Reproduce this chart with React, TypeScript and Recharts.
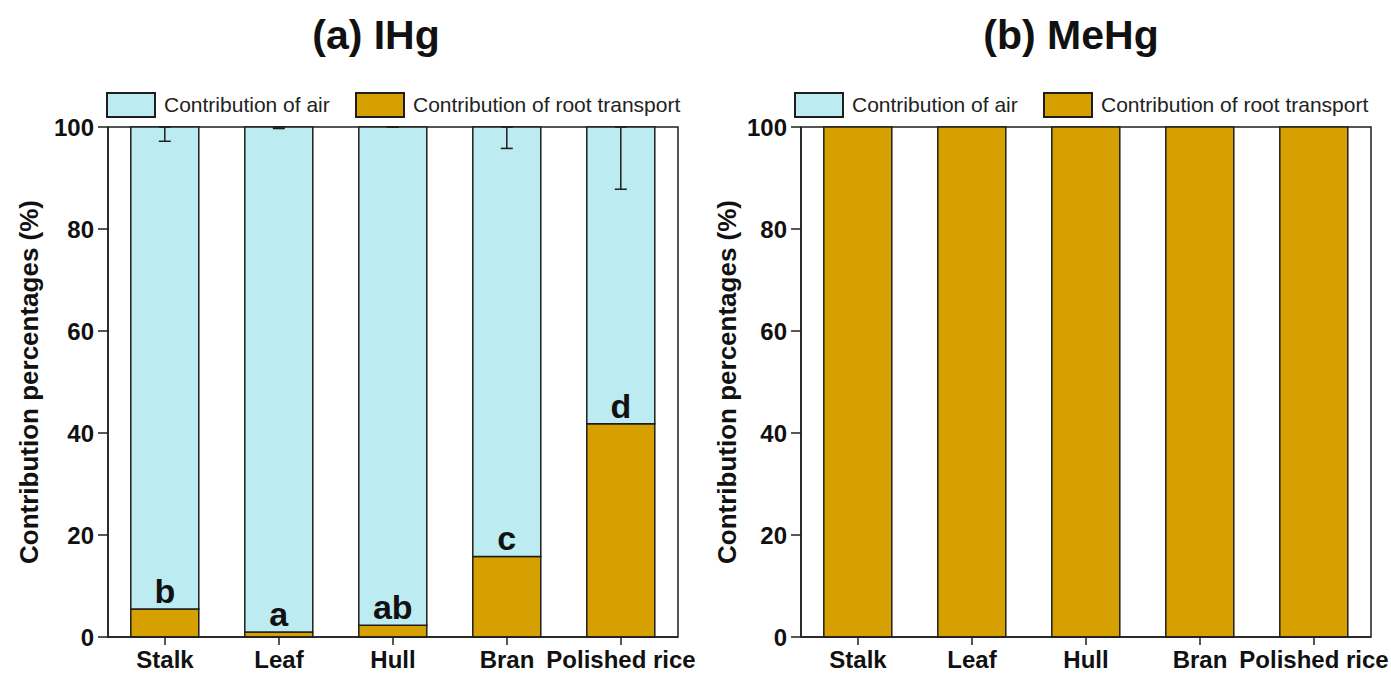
import { BarChart, Bar, XAxis, YAxis, Legend, ErrorBar, LabelList, ReferenceArea } from "recharts";

// data
const parts = ["Stalk", "Leaf", "Hull", "Bran", "Polished rice"];
const ihgRoot = [5.5, 1.0, 2.3, 15.8, 41.8];
const ihgAir = [94.5, 99.0, 97.7, 84.2, 58.2];
const ihgAirErr = [2.8, 0.3, 0, 4.2, 12.2];
const ihgLetters = ["b", "a", "ab", "c", "d"];
const mehgRoot = [100, 100, 100, 100, 100];
const mehgAir = [0, 0, 0, 0, 0];
const yTicks = [0, 20, 40, 60, 80, 100];
const legendOrder = ["Contribution of air", "Contribution of root transport"];

const AIR = "#bdebf2";
const ROOT = "#d5a000";
const INK = "#1e1e1e";
const FONT = "'Liberation Sans', Arial, sans-serif";

const ihgData = parts.map((p, i) => ({
  part: p,
  root: ihgRoot[i],
  air: ihgAir[i],
  airErr: [ihgAirErr[i], 0],
  letter: ihgLetters[i],
}));

const mehgData = parts.map((p, i) => ({
  part: p,
  root: mehgRoot[i],
  air: mehgAir[i],
}));

const renderLegend = () => (
  <div style={{ display: "flex", fontFamily: FONT, fontSize: 21, color: "#222", whiteSpace: "nowrap" }}>
    {legendOrder.map((name, i) => (
      <div key={name} style={{ display: "flex", alignItems: "center", width: i === 0 ? 249 : "auto" }}>
        <div
          style={{
            width: 46,
            height: 22,
            background: i === 0 ? AIR : ROOT,
            border: `2px solid ${INK}`,
            marginRight: 8,
          }}
        />
        <span>{name}</span>
      </div>
    ))}
  </div>
);

type PanelProps = {
  title: string;
  data: any[];
  left: number;
  width: number;
  marginLeft: number;
  marginRight: number;
  labelOffset: number;
  legendLeft: number;
  withExtras: boolean;
};

const Panel = ({ title, data, left, width, marginLeft, marginRight, labelOffset, legendLeft, withExtras }: PanelProps) => (
  <div style={{ position: "absolute", left, top: 0, width, height: 677 }}>
    <div
      style={{
        position: "absolute",
        left: 376,
        top: 15,
        transform: "translateX(-50%)",
        fontFamily: FONT,
        fontWeight: "bold",
        fontSize: 41,
        lineHeight: 1,
        whiteSpace: "nowrap",
        color: "#111",
      }}
    >
      {title}
    </div>
    <BarChart
      width={width}
      height={677}
      data={data}
      margin={{ top: 127, right: marginRight, bottom: 0, left: marginLeft }}
      barCategoryGap="20%"
    >
      <XAxis
        dataKey="part"
        height={40}
        tickSize={8}
        tickMargin={6}
        stroke={INK}
        strokeWidth={1.5}
        tick={{ fill: "#111", fontSize: 24, fontWeight: "bold", fontFamily: FONT }}
        interval={0}
      />
      <YAxis
        domain={[0, 100]}
        ticks={yTicks}
        width={100}
        tickSize={10}
        tickMargin={4}
        stroke={INK}
        strokeWidth={1.5}
        tick={{ fill: "#111", fontSize: 24, fontWeight: "bold", fontFamily: FONT }}
        label={{
          value: "Contribution percentages (%)",
          angle: -90,
          position: "insideLeft",
          offset: labelOffset,
          style: { textAnchor: "middle", fill: "#111", fontSize: 26, fontWeight: "bold", fontFamily: FONT },
        }}
      />
      <ReferenceArea y1={0} y2={100} fill="none" stroke={INK} strokeWidth={1.5} ifOverflow="visible" />
      <Legend
        verticalAlign="middle"
        layout="horizontal"
        content={renderLegend}
        wrapperStyle={{ top: 92, left: legendLeft, width: "auto" }}
      />
      <Bar
        dataKey="root"
        name="Contribution of root transport"
        stackId="s"
        fill={ROOT}
        stroke={INK}
        strokeWidth={1.5}
        isAnimationActive={false}
      >
        {withExtras && (
          <LabelList
            dataKey="letter"
            position="top"
            offset={6}
            style={{ fill: "#111", fontSize: 34, fontWeight: "bold", fontFamily: FONT }}
          />
        )}
      </Bar>
      <Bar
        dataKey="air"
        name="Contribution of air"
        stackId="s"
        fill={AIR}
        stroke={INK}
        strokeWidth={1.5}
        isAnimationActive={false}
      >
        {withExtras && (
          <ErrorBar dataKey="airErr" direction="y" width={6} stroke={INK} strokeWidth={1.5} />
        )}
      </Bar>
    </BarChart>
  </div>
);

export default function App() {
  return (
    <div style={{ position: "absolute", left: 0, top: 0, width: 1391, height: 677, background: "#fff" }}>
      <Panel
        title="(a) IHg"
        data={ihgData}
        left={0}
        width={695}
        marginLeft={8}
        marginRight={17}
        labelOffset={21}
        legendLeft={106}
        withExtras={true}
      />
      <Panel
        title="(b) MeHg"
        data={mehgData}
        left={695}
        width={696}
        marginLeft={6}
        marginRight={20}
        labelOffset={26}
        legendLeft={99}
        withExtras={false}
      />
    </div>
  );
}
